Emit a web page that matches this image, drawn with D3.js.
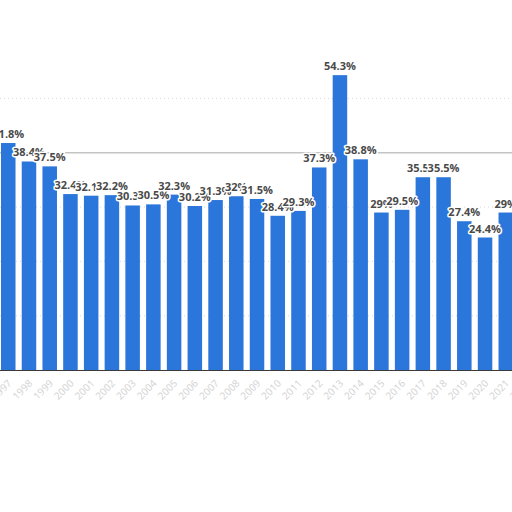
<!DOCTYPE html>
<html>
<head>
<meta charset="utf-8">
<script src="https://cdn.jsdelivr.net/npm/d3@7"></script>
<style>
  html, body { margin: 0; padding: 0; background: #fff; }
  svg { display: block; }
  .bar-label { font-family: "Open Sans", sans-serif; font-weight: 700; font-size: 11px; fill: #4a4a4a;
               paint-order: stroke; stroke: #fff; stroke-width: 3px; stroke-linejoin: round; }
  .x-label { font-family: "Open Sans", sans-serif; font-size: 10px; fill: #d2d2d2; }
</style>
</head>
<body>
<div id="chart"></div>
<script>
// categories (years) and share values
const years = ["1996","1997","1998","1999","2000","2001","2002","2003","2004","2005","2006","2007","2008",
               "2009","2010","2011","2012","2013","2014","2015","2016","2017","2018","2019","2020","2021","2022"];
const shares = [39.0, 41.8, 38.4, 37.5, 32.4, 32.1, 32.2, 30.3, 30.5, 32.3, 30.2, 31.3, 32, 31.5,
                28.4, 29.3, 37.3, 54.3, 38.8, 29, 29.5, 35.5, 35.5, 27.4, 24.4, 29, 27];
const gridTicks = [10, 20, 30, 40, 50];

const data = years.map((y, i) => ({year: y, value: shares[i]}));

const svgWidth = 512, svgHeight = 512;
const svg = d3.select("#chart").append("svg")
    .attr("width", svgWidth)
    .attr("height", svgHeight);

const baseY = 370;
const step = 20.73;

// band scale: first category sits off-screen to the left
const x = d3.scaleBand()
    .domain(years)
    .range([-step + 1, -step + 1 + step * (years.length - 0.3)])
    .paddingInner(0.3)
    .paddingOuter(0);

const y = d3.scaleLinear()
    .domain([0, 50])
    .range([baseY, baseY - 271.5]);

// gridlines (40% line reads heavier in the reference)
svg.append("g")
    .selectAll("line")
    .data(gridTicks)
    .join("line")
    .attr("x1", 0)
    .attr("x2", svgWidth)
    .attr("y1", d => y(d))
    .attr("y2", d => y(d))
    .attr("stroke", d => d === 40 ? "#c4c4c4" : "#dadada")
    .attr("stroke-width", d => d === 40 ? 1.5 : 1)
    .attr("stroke-dasharray", d => d === 40 ? null : "1,3");

// bars
svg.append("g")
    .selectAll("rect")
    .data(data)
    .join("rect")
    .attr("x", d => x(d.year))
    .attr("y", d => y(d.value))
    .attr("width", x.bandwidth())
    .attr("height", d => y(0) - y(d.value))
    .attr("fill", "#2b76da");

// baseline axis
svg.append("line")
    .attr("x1", 0).attr("x2", svgWidth)
    .attr("y1", baseY + 0.5).attr("y2", baseY + 0.5)
    .attr("stroke", "#3a3a3a")
    .attr("stroke-width", 1);

// rotated category labels
svg.append("g")
    .selectAll("text")
    .data(data)
    .join("text")
    .attr("class", "x-label")
    .attr("text-anchor", "end")
    .attr("transform", d => `translate(${x(d.year) + x.bandwidth() / 2 + 4},${baseY + 14}) rotate(-45)`)
    .text(d => d.year);

// value labels
svg.append("g")
    .selectAll("text")
    .data(data)
    .join("text")
    .attr("class", "bar-label")
    .attr("text-anchor", "middle")
    .attr("x", d => x(d.year) + x.bandwidth() / 2)
    .attr("y", d => y(d.value) - 5)
    .text(d => d.value + "%");
</script>
</body>
</html>
